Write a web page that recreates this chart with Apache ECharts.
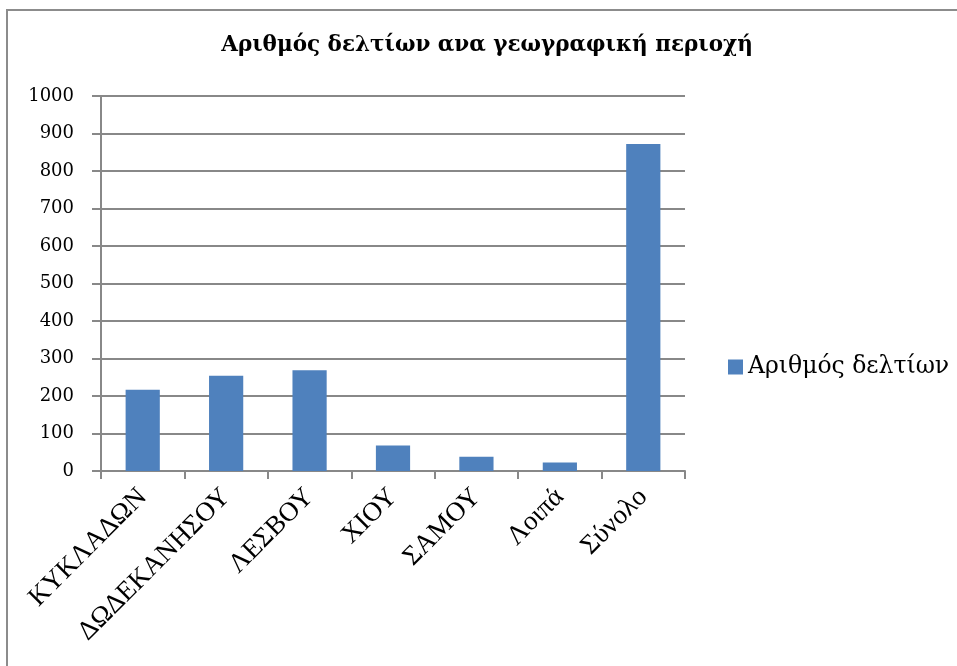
<!DOCTYPE html>
<html>
<head>
<meta charset="utf-8">
<title>Αριθμός δελτίων ανα γεωγραφική περιοχή</title>
<script src="https://cdn.jsdelivr.net/npm/echarts@6/dist/echarts.min.js"></script>
<style>
  html, body { margin: 0; padding: 0; background: #fff; }
  #chart { width: 957px; height: 666px; }
</style>
</head>
<body>
<div id="chart"></div>
<script>
// data
const categories = ['ΚΥΚΛΑΔΩΝ', 'ΔΩΔΕΚΑΝΗΣΟΥ', 'ΛΕΣΒΟΥ', 'ΧΙΟΥ', 'ΣΑΜΟΥ', 'Λοιπά', 'Σύνολο'];
const counts = [217, 254, 269, 68, 38, 23, 872];
const seriesName = 'Αριθμός δελτίων';
const chartTitle = 'Αριθμός δελτίων ανα γεωγραφική περιοχή';

const wideSerif = '"DejaVu Serif", "Liberation Serif", serif';
const serif = '"Liberation Serif", "DejaVu Serif", serif';

const chart = echarts.init(document.getElementById('chart'));

chart.setOption({
  animation: false,
  backgroundColor: '#fff',
  graphic: [{
    type: 'rect',
    shape: { x: 7, y: 10, width: 1000, height: 700 },
    style: { fill: 'none', stroke: '#8c8c8c', lineWidth: 2 },
    silent: true
  }],
  title: {
    text: chartTitle,
    left: 487,
    top: 34,
    padding: 0,
    textAlign: 'center',
    textStyle: { fontFamily: wideSerif, fontWeight: 'bold', fontSize: 21.5, color: '#000' }
  },
  legend: {
    left: 728,
    top: 355,
    padding: 0,
    itemWidth: 15,
    itemHeight: 15,
    itemGap: 8,
    textStyle: { fontFamily: wideSerif, fontSize: 23.5, color: '#000' },
    data: [{ name: seriesName, icon: 'rect' }]
  },
  grid: { left: 101, right: 272, top: 96, bottom: 195 },
  xAxis: {
    type: 'category',
    data: categories,
    axisLine: { lineStyle: { color: '#888', width: 2 } },
    axisTick: { show: true, length: 8, lineStyle: { color: '#888', width: 2 } },
    axisLabel: {
      rotate: 45,
      interval: 0,
      margin: 22,
      fontFamily: serif,
      fontSize: 27,
      color: '#000'
    }
  },
  yAxis: {
    type: 'value',
    min: 0,
    max: 1000,
    interval: 100,
    axisLine: { show: true, lineStyle: { color: '#888', width: 2 } },
    axisTick: { show: true, length: 9, lineStyle: { color: '#888', width: 2 } },
    splitLine: { lineStyle: { color: '#888', width: 2 } },
    axisLabel: {
      margin: 27,
      fontFamily: wideSerif,
      fontSize: 18,
      color: '#000',
      formatter: v => String(v)
    }
  },
  series: [{
    name: seriesName,
    type: 'bar',
    data: counts,
    barWidth: '41%',
    itemStyle: { color: '#4f81bd' }
  }]
});
</script>
</body>
</html>
